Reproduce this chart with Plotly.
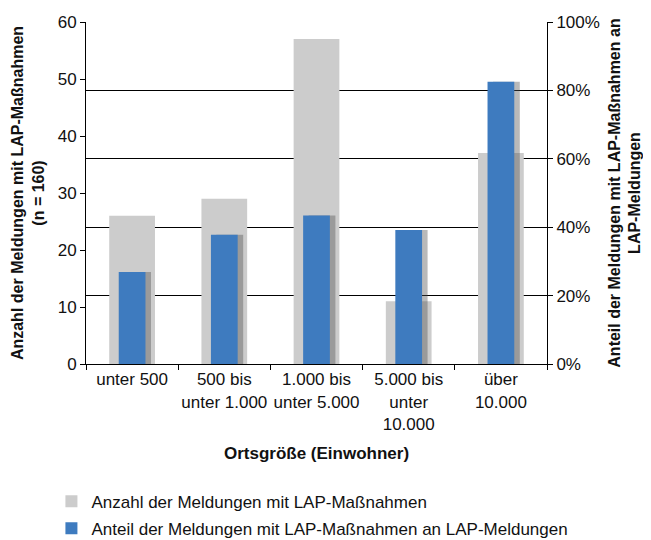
import plotly.graph_objects as go

categories = ["unter 500", "500 bis<br>unter 1.000", "1.000 bis<br>unter 5.000",
              "5.000 bis<br>unter<br>10.000", "über<br>10.000"]
anzahl = [26, 29, 57, 11, 37]
anteil = [0.269, 0.378, 0.434, 0.392, 0.825]

name_anzahl = "Anzahl der Meldungen mit LAP-Maßnahmen"
name_anteil = "Anteil der Meldungen mit LAP-Maßnahmen an LAP-Meldungen"

FONT = "Liberation Sans, Arial, sans-serif"

fig = go.Figure()
fig.add_trace(go.Bar(x=categories, y=anzahl, name=name_anzahl, yaxis="y",
                     marker=dict(color="#CCCCCC", line=dict(width=0)),
                     width=0.496, legendgroup="a"))
# soft shadow of the blue bars
fig.add_trace(go.Bar(x=categories, y=anteil, yaxis="y2", showlegend=False,
                     marker=dict(color="rgba(80,80,80,0.40)", line=dict(width=0)),
                     width=0.29, offset=-0.145 + 0.06, hoverinfo="skip"))
fig.add_trace(go.Bar(x=categories, y=anteil, name=name_anteil, yaxis="y2",
                     marker=dict(color="#3E7BBF", line=dict(width=0)),
                     width=0.29, offset=-0.145, legendgroup="b"))

fig.update_layout(
    template="none",
    width=651, height=540,
    margin=dict(l=78, r=112, t=14, b=184, autoexpand=False),
    paper_bgcolor="white", plot_bgcolor="white",
    barmode="overlay",
    font=dict(family=FONT, size=17, color="#111111"),
    xaxis=dict(
        automargin=False, tickangle=0, showgrid=False, zeroline=False,
        showline=True, linecolor="black", linewidth=1,
        ticks="outside", tickson="boundaries", ticklen=5, tickcolor="black",
        tickfont=dict(size=17),
        title=dict(text="<b>Ortsgröße (Einwohner)</b>", font=dict(size=17), standoff=14),
    ),
    yaxis=dict(
        automargin=False, range=[0, 60], dtick=10, showgrid=False, zeroline=False,
        showline=True, linecolor="black", linewidth=1,
        ticks="outside", ticklen=5, tickcolor="black",
        tickfont=dict(size=17),
        title=dict(text="<b>Anzahl der Meldungen mit LAP-Maßnahmen<br>(n = 160)</b>",
                   font=dict(size=16), standoff=9),
    ),
    yaxis2=dict(
        automargin=False, overlaying="y", side="right", range=[0, 1], dtick=0.2,
        tickformat=".0%", zeroline=False,
        showgrid=True, gridcolor="black", gridwidth=1,
        showline=True, linecolor="black", linewidth=1,
        ticks="outside", ticklen=5, tickcolor="black",
        tickfont=dict(size=17),
        title=dict(text="<b>Anteil der Meldungen mit LAP-Maßnahmen an<br>LAP-Meldungen</b>",
                   font=dict(size=16), standoff=9),
    ),
    legend=dict(orientation="v", x=-0.075, xanchor="left", y=-0.350, yanchor="top",
                font=dict(size=17), tracegroupgap=2, traceorder="grouped",
                itemwidth=30, bgcolor="rgba(0,0,0,0)"),
    showlegend=True,
)

fig.write_html("out.html")
